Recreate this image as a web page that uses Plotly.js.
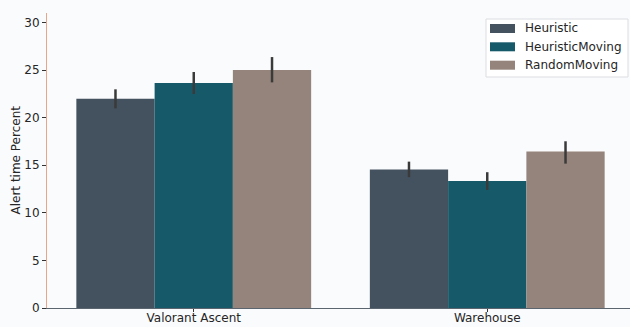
<!DOCTYPE html>
<html>
<head>
<meta charset="utf-8">
<script src="https://cdn.plot.ly/plotly-3.0.1.min.js"></script>
<style>
  html, body { margin: 0; padding: 0; overflow: hidden; background: #fafbfd; }
  #chart { width: 634px; height: 327px; }
</style>
</head>
<body>
<div id="chart"></div>
<script>
// Maps on the x axis
const maps = ["Valorant Ascent", "Warehouse"];

// Mean alert time (%) per strategy, one value per map
const heuristic       = [22.0, 14.55];
const heuristicMoving = [23.65, 13.35];
const randomMoving    = [25.0, 16.45];

// Confidence interval bounds (upper / lower) per strategy
const heuristicHi       = [22.98, 15.38];
const heuristicLo       = [20.98, 13.75];
const heuristicMovingHi = [24.8, 14.27];
const heuristicMovingLo = [22.49, 12.41];
const randomMovingHi    = [26.37, 17.52];
const randomMovingLo    = [23.71, 15.17];

const seriesNames  = ["Heuristic", "HeuristicMoving", "RandomMoving"];
const seriesColors = ["#44525f", "#165a6a", "#95847b"];

function barTrace(name, color, values, hi, lo) {
  return {
    type: "bar",
    name: name,
    x: maps,
    y: values,
    marker: { color: color, line: { width: 0 } },
    error_y: {
      type: "data",
      symmetric: false,
      array: hi.map((h, i) => h - values[i]),
      arrayminus: lo.map((l, i) => values[i] - l),
      width: 0,
      thickness: 2.5,
      color: "#3a3a3a"
    },
    hoverinfo: "x+y+name"
  };
}

const data = [
  barTrace(seriesNames[0], seriesColors[0], heuristic, heuristicHi, heuristicLo),
  barTrace(seriesNames[1], seriesColors[1], heuristicMoving, heuristicMovingHi, heuristicMovingLo),
  barTrace(seriesNames[2], seriesColors[2], randomMoving, randomMovingHi, randomMovingLo)
];

// Figure geometry (pixels)
const W = 634, H = 327;
const M = { l: 47, r: 0, t: 13, b: 19 };
const plotW = W - M.l - M.r, plotH = H - M.t - M.b;
const px = x => (x - M.l) / plotW;          // pixel x -> paper x
const py = y => (H - M.b - y) / plotH;      // pixel y -> paper y

// Legend box with wide swatches, placed in the upper right corner
const legendBox = { x0: 486, x1: 628, y0: 19, y1: 77 };
const legendRows = [28.5, 46.8, 65.2];
const shapes = [{
  type: "rect", xref: "paper", yref: "paper",
  x0: px(legendBox.x0), x1: px(legendBox.x1),
  y0: py(legendBox.y1), y1: py(legendBox.y0),
  fillcolor: "#ffffff", line: { color: "#dcdde2", width: 1 }, layer: "above"
}];
const annotations = [];
seriesNames.forEach((name, i) => {
  const cy = legendRows[i];
  shapes.push({
    type: "rect", xref: "paper", yref: "paper",
    x0: px(490), x1: px(515), y0: py(cy + 4.5), y1: py(cy - 4.5),
    fillcolor: seriesColors[i], line: { width: 0 }, layer: "above"
  });
  annotations.push({
    xref: "paper", yref: "paper", x: px(523), y: py(cy),
    xanchor: "left", yanchor: "middle", showarrow: false,
    text: name, font: { size: 12, color: "#262626" }
  });
});

// Y axis title
annotations.push({
  xref: "paper", yref: "paper", x: px(15), y: 0.5,
  xanchor: "center", yanchor: "middle", showarrow: false, textangle: -90,
  text: "Alert time Percent", font: { size: 12, color: "#262626" }
});

const layout = {
  width: W,
  height: H,
  margin: M,
  paper_bgcolor: "#fafbfd",
  plot_bgcolor: "#fafbfd",
  font: { family: "DejaVu Sans, sans-serif", size: 12, color: "#262626" },
  barmode: "group",
  bargap: 0.2,
  bargroupgap: 0,
  showlegend: false,
  shapes: shapes,
  annotations: annotations,
  xaxis: {
    type: "category",
    range: [-0.5, 1.5],
    showgrid: false,
    zeroline: false,
    showline: true,
    linecolor: "#5b6570",
    linewidth: 1,
    ticks: "outside",
    ticklen: 3,
    tickcolor: "#333333",
    ticklabelstandoff: -4,
    tickfont: { size: 12, color: "#262626" }
  },
  yaxis: {
    range: [0, 31],
    tickvals: [0, 5, 10, 15, 20, 25, 30],
    showgrid: false,
    zeroline: false,
    showline: true,
    linecolor: "#e9a58a",
    linewidth: 1,
    ticks: "outside",
    ticklen: 4,
    tickcolor: "#333333",
    tickfont: { size: 12, color: "#262626" }
  }
};

Plotly.newPlot("chart", data, layout, { displayModeBar: false, staticPlot: true });
</script>
</body>
</html>
